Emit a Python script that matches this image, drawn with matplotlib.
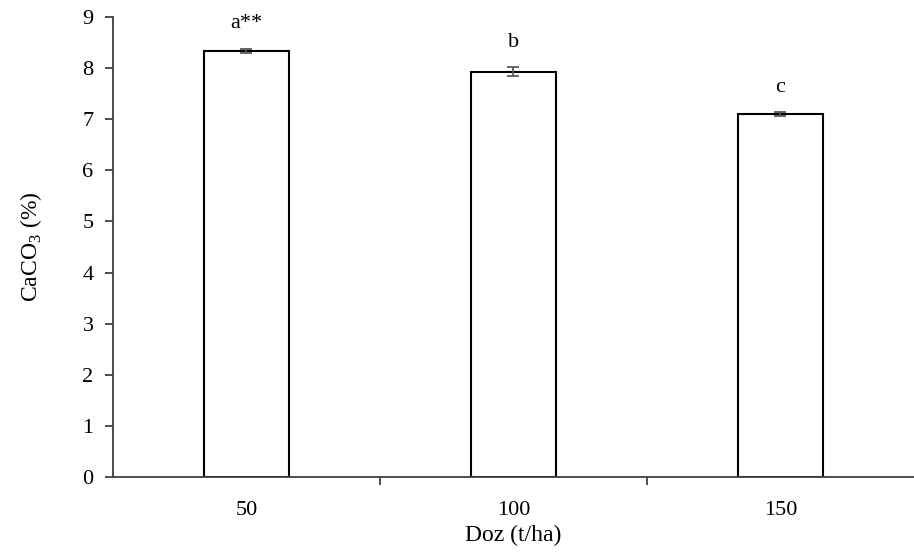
import numpy as np
import matplotlib
matplotlib.use("Agg")
import matplotlib.pyplot as plt

# data
doses = ["50", "100", "150"]
caco3 = [8.34, 7.93, 7.10]
caco3_err = [0.04, 0.09, 0.04]
letters = ["a**", "b", "c"]

plt.rcParams['font.family'] = ['Liberation Serif', 'DejaVu Serif']
plt.rcParams['mathtext.fontset'] = 'custom'
plt.rcParams['mathtext.rm'] = 'Liberation Serif'

AXIS_GREY = "#404040"

fig = plt.figure(figsize=(9.14, 5.57), dpi=100)
ax = fig.add_axes([0.1236, 0.1436, 0.8764, 0.8259])

x = np.arange(len(doses))
ax.bar(x, caco3, width=0.317, color="white", edgecolor="black", linewidth=1.5, zorder=2)
ax.errorbar(x, caco3, yerr=caco3_err, fmt="none", ecolor="#595959",
            elinewidth=1.3, capsize=4, capthick=1.3, zorder=3)

for xi, v, e, lab in zip(x, caco3, caco3_err, letters):
    ax.annotate(lab, (xi, v + e), xytext=(0, 11), textcoords="offset points",
                ha="center", va="bottom", fontsize=16)

ax.set_xlim(-0.5, 2.5)
ax.set_ylim(0, 9)
ax.set_yticks(range(0, 10))
ax.set_xticks(x)
ax.set_xticklabels(doses)
ax.set_xticks([0.5, 1.5], minor=True)
ax.tick_params(axis="x", which="major", length=0, pad=17, labelsize=16)
ax.tick_params(axis="x", which="minor", length=6, color=AXIS_GREY, width=1.3)
ax.tick_params(axis="y", length=6, color=AXIS_GREY, width=1.3, labelsize=16, pad=8)

for s in ["top", "right"]:
    ax.spines[s].set_visible(False)
for s in ["left", "bottom"]:
    ax.spines[s].set_color(AXIS_GREY)
    ax.spines[s].set_linewidth(1.3)
ax.spines["bottom"].set_zorder(4)

ax.set_xlabel("Doz (t/ha)", fontsize=17, labelpad=4)
ax.set_ylabel(r"CaCO$_\mathregular{3}$ (%)", fontsize=17, labelpad=28)

fig.savefig("out.png", dpi=100)
